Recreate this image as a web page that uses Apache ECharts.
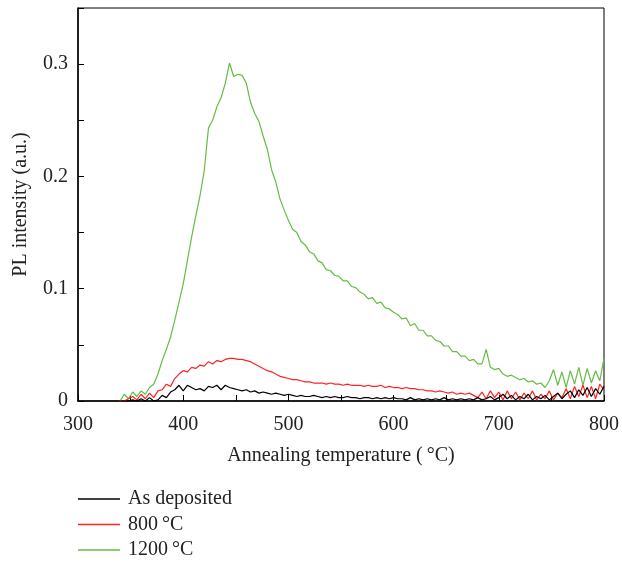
<!DOCTYPE html>
<html>
<head>
<meta charset="utf-8">
<script src="https://cdn.jsdelivr.net/npm/echarts@6/dist/echarts.min.js"></script>
<style>html,body{margin:0;padding:0;background:#fff}#c{width:622px;height:562px}</style>
</head>
<body>
<div id="c"></div>
<script>
var temps = [340,344,348,352,356,360,364,368,372,376,380,384,388,392,396,400,404,408,412,416,420,424,428,432,436,440,444,448,452,456,460,464,468,472,476,480,484,488,492,496,500,504,508,512,516,520,524,528,532,536,540,544,548,552,556,560,564,568,572,576,580,584,588,592,596,600,604,608,612,616,620,624,628,632,636,640,644,648,652,656,660,664,668,672,676,680,684,688,692,696,700,704,708,712,716,720,724,728,732,736,740,744,748,752,756,760,764,768,772,776,780,784,788,792,796,800];

var asDeposited = [0,0,0,0.001,0,0.002,0,0.003,0,0.001,0.005,0.003,0.008,0.010,0.014,0.009,0.014,0.012,0.010,0.011,0.009,0.013,0.012,0.014,0.010,0.014,0.012,0.011,0.010,0.009,0.010,0.008,0.009,0.007,0.008,0.007,0.006,0.007,0.006,0.005,0.006,0.005,0.004,0.005,0.004,0.004,0.005,0.004,0.003,0.004,0.003,0.004,0.003,0.003,0.004,0.003,0.003,0.002,0.003,0.003,0.002,0.003,0.002,0.003,0.002,0.003,0.002,0.002,0.001,0.003,0.001,0.002,0.001,0.002,0.001,0.002,0.001,0.003,0.001,0.002,0.001,0.002,0.001,0.002,0.001,0.003,0.001,0.002,0.004,0.001,0.003,0.006,0.002,0.005,0.001,0.004,0.002,0.006,0.001,0.004,0.002,0.005,0.001,0.004,0.007,0.002,0.006,0.009,0.003,0.010,0.005,0.012,0.004,0.011,0.006,0.013];

var c800 = [0,0,0.002,0.004,0.001,0.006,0.002,0.007,0.003,0.009,0.010,0.015,0.013,0.020,0.024,0.027,0.026,0.030,0.029,0.032,0.031,0.035,0.033,0.036,0.035,0.037,0.038,0.038,0.037,0.037,0.036,0.035,0.033,0.031,0.029,0.027,0.026,0.024,0.022,0.021,0.020,0.019,0.019,0.018,0.017,0.017,0.016,0.016,0.016,0.015,0.016,0.015,0.015,0.014,0.015,0.014,0.014,0.014,0.013,0.014,0.013,0.013,0.014,0.012,0.013,0.012,0.012,0.011,0.012,0.011,0.011,0.010,0.010,0.009,0.009,0.008,0.009,0.008,0.007,0.008,0.006,0.007,0.006,0.007,0.005,0.003,0.008,0.002,0.009,0.003,0.008,0.001,0.009,0.002,0.008,0.001,0.007,0.002,0.009,0.001,0.006,0.002,0.009,0.001,0.007,0.003,0.011,0.002,0.013,0.004,0.014,0.003,0.013,0.002,0.015,0.010];

var c1200 = [0,0.006,0.002,0.008,0.004,0.009,0.006,0.012,0.015,0.024,0.036,0.046,0.057,0.072,0.088,0.104,0.125,0.146,0.165,0.183,0.205,0.243,0.250,0.262,0.270,0.283,0.301,0.289,0.291,0.290,0.283,0.266,0.256,0.249,0.236,0.224,0.206,0.195,0.180,0.170,0.161,0.153,0.150,0.142,0.139,0.133,0.131,0.125,0.123,0.117,0.116,0.112,0.111,0.107,0.107,0.102,0.101,0.097,0.095,0.091,0.092,0.087,0.088,0.083,0.082,0.079,0.077,0.073,0.074,0.067,0.069,0.063,0.063,0.058,0.058,0.054,0.053,0.049,0.049,0.044,0.044,0.040,0.040,0.036,0.037,0.033,0.033,0.046,0.030,0.028,0.029,0.024,0.022,0.023,0.021,0.019,0.020,0.017,0.018,0.015,0.016,0.012,0.018,0.028,0.014,0.026,0.012,0.027,0.015,0.030,0.014,0.029,0.016,0.027,0.018,0.038];

var seriesNames = ['As deposited', '800\u2009°C', '1200\u2009°C'];
var seriesColors = ['#000000', '#ff2222', '#66bb44'];
var seriesValues = [asDeposited, c800, c1200];

function pairs(vals){ return temps.map(function(t,i){ return [t, vals[i]]; }); }

var FONT = 'Liberation Serif';
var chart = echarts.init(document.getElementById('c'), null, {renderer:'canvas'});
chart.setOption({
  animation: false,
  grid: {left: 78, right: 16, top: 8, bottom: 161, show: true, borderColor: '#000', borderWidth: 1},
  legend: {
    left: 78, top: 489, orient: 'vertical', icon: 'rect', itemWidth: 42, itemHeight: 1.5, itemGap: 5.5,
    padding: 0,
    textStyle: {fontFamily: FONT, fontSize: 20, color: '#222', lineHeight: 20, padding: [0,0,0,3]},
    data: seriesNames
  },
  xAxis: {
    type: 'value', min: 300, max: 800, interval: 100,
    name: 'Annealing temperature (\u2009°C)', nameLocation: 'middle', nameGap: 45,
    nameTextStyle: {fontFamily: FONT, fontSize: 20, color: '#222'},
    axisLine: {lineStyle: {color: '#000', width: 1.5}},
    axisTick: {inside: true, length: 6, lineStyle: {color: '#000'}},
    minorTick: {show: true, splitNumber: 2, length: 6, lineStyle: {color: '#000'}},
    splitLine: {show: false},
    axisLabel: {fontFamily: FONT, fontSize: 20, color: '#222', margin: 14}
  },
  yAxis: {
    type: 'value', min: 0, max: 0.35, interval: 0.1,
    name: 'PL intensity (a.u.)', nameLocation: 'middle', nameGap: 47, nameRotate: 90,
    nameTextStyle: {fontFamily: FONT, fontSize: 20, color: '#222'},
    axisLine: {lineStyle: {color: '#000', width: 1.5}},
    axisTick: {inside: true, length: 6, lineStyle: {color: '#000'}},
    minorTick: {show: true, splitNumber: 2, length: 6, lineStyle: {color: '#000'}},
    splitLine: {show: false},
    axisLabel: {fontFamily: FONT, fontSize: 20, color: '#222', margin: 10, showMaxLabel: false,
      formatter: function(v){ return v === 0 ? '0' : v.toFixed(1); }}
  },
  series: seriesValues.map(function(vals, k){
    return {
      name: seriesNames[k], type: 'line', data: pairs(vals), showSymbol: false, symbol: 'none',
      lineStyle: {color: seriesColors[k], width: 1.2}, itemStyle: {color: seriesColors[k]},
      z: 3 - k
    };
  })
});
</script>
</body>
</html>
